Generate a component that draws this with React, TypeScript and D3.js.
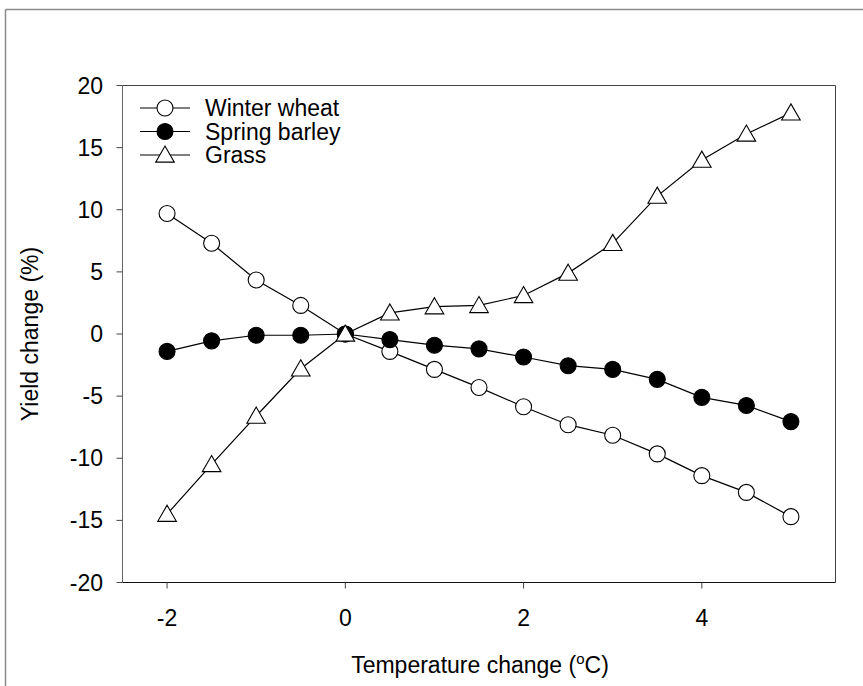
import React from "react";
import * as d3 from "d3";

// Temperature change (°C) and the yield change (%) of each crop
const temps = [-2, -1.5, -1, -0.5, 0, 0.5, 1, 1.5, 2, 2.5, 3, 3.5, 4, 4.5, 5];
const winterWheat = [9.7, 7.3, 4.35, 2.3, 0, -1.4, -2.85, -4.3, -5.85, -7.3, -8.15, -9.65, -11.4, -12.75, -14.7];
const springBarley = [-1.4, -0.55, -0.1, -0.1, 0, -0.45, -0.9, -1.2, -1.85, -2.55, -2.85, -3.65, -5.1, -5.75, -7.05];
const grass = [-14.5, -10.5, -6.6, -2.8, 0, 1.7, 2.2, 2.3, 3.1, 4.9, 7.3, 11.1, 14.0, 16.1, 17.8];

const xTicks = [-2, 0, 2, 4];
const yTicks = [-20, -15, -10, -5, 0, 5, 10, 15, 20];
const seriesNames = ["Winter wheat", "Spring barley", "Grass"];

const W = 863;
const H = 686;
const FONT = "'Liberation Sans', Arial, sans-serif";
const FS = 23;

const x = d3.scaleLinear().domain([-2.5, 5.5]).range([122.5, 835.5]);
const y = d3.scaleLinear().domain([-20, 20]).range([582.5, 85.5]);

type Kind = "open" | "filled" | "triangle";

function Marker({ cx, cy, kind }: { cx: number; cy: number; kind: Kind }) {
  if (kind === "triangle") {
    const path = d3.symbol().type(d3.symbolTriangle).size(150)();
    // d3's triangle is centred on its centroid; shift it so the box is centred
    return (
      <path
        d={path as string}
        transform={`translate(${cx},${cy + 1.8})`}
        fill="#fff"
        stroke="#000"
        strokeWidth={1.1}
      />
    );
  }
  return (
    <circle
      cx={cx}
      cy={cy}
      r={8}
      fill={kind === "filled" ? "#000" : "#fff"}
      stroke="#000"
      strokeWidth={1.1}
    />
  );
}

export default function App() {
  const series: { values: number[]; kind: Kind }[] = [
    { values: winterWheat, kind: "open" },
    { values: springBarley, kind: "filled" },
    { values: grass, kind: "triangle" },
  ];
  const line = d3
    .line<[number, number]>()
    .x((d) => x(d[0]))
    .y((d) => y(d[1]));

  const legendY = [108, 131.5, 155];

  return (
    <svg
      width={W}
      height={H}
      style={{ position: "absolute", left: 0, top: 0, display: "block", background: "#fff" }}
      fontFamily={FONT}
    >
      {/* outer frame */}
      <line x1={5.5} y1={9.5} x2={W} y2={9.5} stroke="#8a8a8a" strokeWidth={1.5} />
      <line x1={5.5} y1={9.5} x2={5.5} y2={H} stroke="#8a8a8a" strokeWidth={1.5} />

      {/* plot frame */}
      <line x1={x(-2.5)} y1={y(20)} x2={x(5.5)} y2={y(20)} stroke="#444" strokeWidth={1} />
      <line x1={x(5.5)} y1={y(20)} x2={x(5.5)} y2={y(-20)} stroke="#444" strokeWidth={1} />
      <line x1={x(-2.5)} y1={y(20)} x2={x(-2.5)} y2={y(-20)} stroke="#666" strokeWidth={1} />
      <line x1={x(-2.5)} y1={y(-20)} x2={x(5.5)} y2={y(-20)} stroke="#111" strokeWidth={1} />

      {/* y axis ticks and labels */}
      {yTicks.map((t) => (
        <g key={`y${t}`}>
          <line x1={x(-2.5) - 6} x2={x(-2.5)} y1={y(t)} y2={y(t)} stroke="#444" />
          <text x={103} y={y(t)} dy="0.35em" textAnchor="end" fontSize={FS}>
            {t}
          </text>
        </g>
      ))}

      {/* x axis ticks and labels */}
      {xTicks.map((t) => (
        <g key={`x${t}`}>
          <line x1={x(t)} x2={x(t)} y1={y(-20)} y2={y(-20) + 6} stroke="#444" />
          <text x={x(t)} y={626} textAnchor="middle" fontSize={FS}>
            {t}
          </text>
        </g>
      ))}

      {/* axis titles */}
      <text x={480} y={673} textAnchor="middle" fontSize={FS}>
        Temperature change (<tspan dy={-9} fontSize={15}>o</tspan>
        <tspan dy={9}>C)</tspan>
      </text>
      <text
        transform={`translate(38,${(y(20) + y(-20)) / 2}) rotate(-90)`}
        textAnchor="middle"
        fontSize={FS}
      >
        Yield change (%)
      </text>

      {/* series */}
      {series.map((s, i) => {
        const pts = temps.map((t, j) => [t, s.values[j]] as [number, number]);
        return (
          <g key={i}>
            <path d={line(pts) as string} fill="none" stroke="#000" strokeWidth={1.2} />
            {pts.map((p, j) => (
              <Marker key={j} cx={x(p[0])} cy={y(p[1])} kind={s.kind} />
            ))}
          </g>
        );
      })}

      {/* legend */}
      {series.map((s, i) => (
        <g key={`lg${i}`}>
          <line x1={140} x2={190} y1={legendY[i]} y2={legendY[i]} stroke="#000" strokeWidth={1.2} />
          <Marker cx={165} cy={legendY[i]} kind={s.kind} />
          <text x={205} y={legendY[i]} dy="0.35em" fontSize={FS}>
            {seriesNames[i]}
          </text>
        </g>
      ))}
    </svg>
  );
}
